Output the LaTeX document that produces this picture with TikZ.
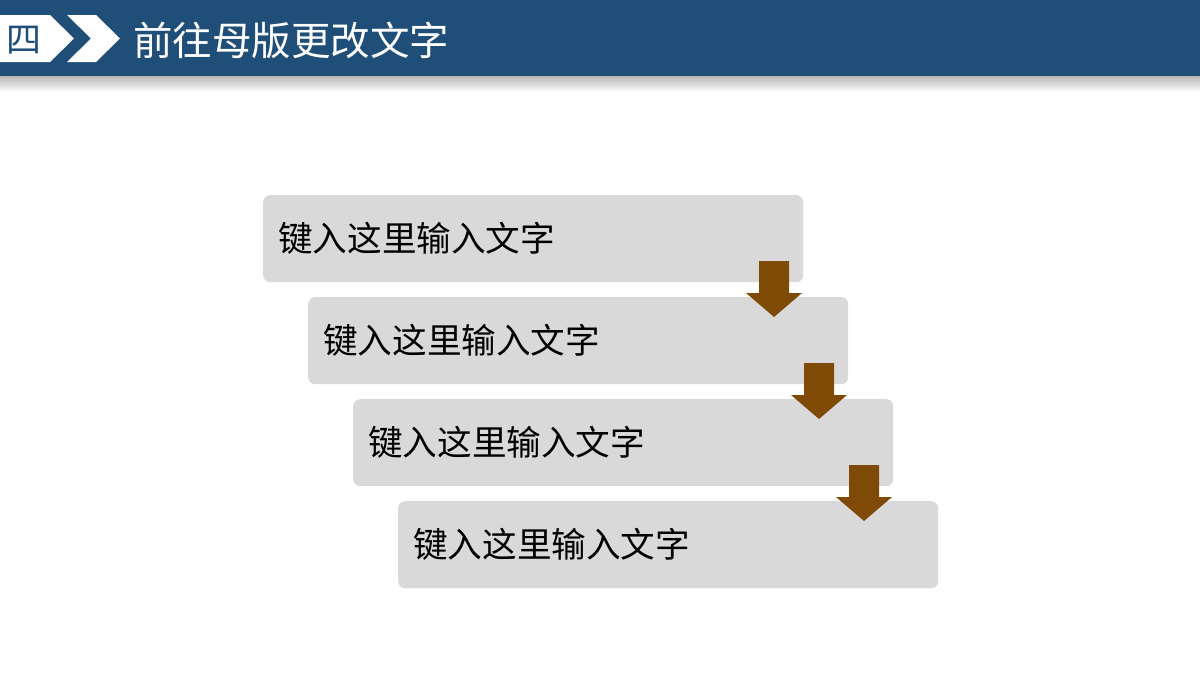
\documentclass[tikz,border=0pt]{standalone}
\usepackage{fontspec}
\newfontfamily\cjk{Noto Sans CJK SC}
\definecolor{hdrblue}{HTML}{1F4E79}
\definecolor{boxgray}{HTML}{D9D9D9}
\definecolor{arrbrown}{HTML}{7F4A06}
\begin{document}
\begin{tikzpicture}[x=1pt,y=-1pt,
  stepbox/.style={fill=boxgray,rounded corners=7pt,minimum width=540pt,minimum height=87pt,anchor=north west,inner sep=0pt},
  steptext/.style={anchor=west,font=\cjk\fontsize{34.6}{34.6}\selectfont,text=black},
  downarrow/.style={fill=arrbrown,draw=none}]
\useasboundingbox (0,0) rectangle (1200,675);
\fill[white] (0,0) rectangle (1200,675);
% header shadow
\shade[top color=black!30,bottom color=white] (0,75) rectangle (1200,92);
\fill[hdrblue] (0,0) rectangle (1200,76);
% white pentagon and chevron
\fill[white] (0,15) -- (50,15) -- (74,38.5) -- (50,62) -- (0,62) -- cycle;
\fill[white] (67,15) -- (96,15) -- (120,38.5) -- (96,62) -- (67,62) -- (91,38.5) -- cycle;
\node[font=\cjk\fontsize{35}{35}\selectfont,text=hdrblue] (num) at (24,40) {四};
\node[anchor=west,font=\cjk\fontsize{39.5}{39.5}\selectfont,text=white,inner sep=0pt] (title) at (133,40) {前往母版更改文字};
% boxes
\foreach \i/\x/\y in {1/263/195,2/308/297,3/353/399,4/398/501}{
  \node[stepbox] (b\i) at (\x,\y) {};
  \node[steptext,inner sep=0pt] (t\i) at ([xshift=15pt]b\i.west) {键入这里输入文字};
}
% arrows
\foreach \i/\x/\y in {1/774/261,2/819/363,3/864/465}{
  \fill[downarrow] (\x-15,\y) -- (\x+15,\y) -- (\x+15,\y+32) -- (\x+28,\y+32) -- (\x,\y+56) -- (\x-28,\y+32) -- (\x-15,\y+32) -- cycle;
}
\end{tikzpicture}
\end{document}
